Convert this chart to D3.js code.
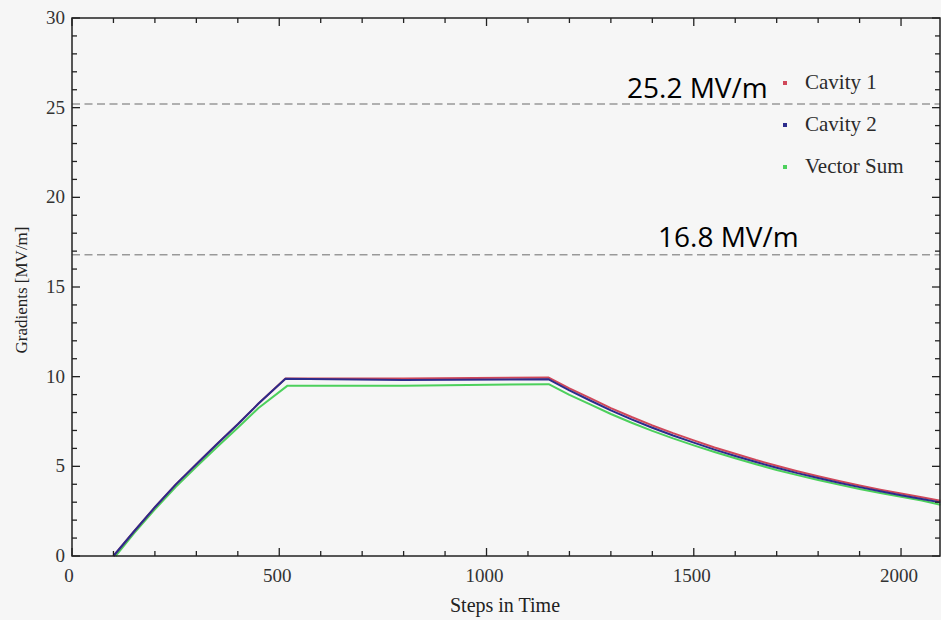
<!DOCTYPE html>
<html>
<head>
<meta charset="utf-8">
<script src="https://cdn.jsdelivr.net/npm/d3@7"></script>
<style>
  body { margin: 0; background: #f6f6f6; }
  svg { display: block; }
  .tick-label { font-family: "Liberation Serif", serif; font-size: 19px; fill: #333; }
  .axis-title { font-family: "Liberation Serif", serif; fill: #222; }
  .legend text { font-family: "Liberation Serif", serif; font-size: 21px; fill: #2a2a2a; }
  .note { font-family: "Open Sans", sans-serif; font-size: 28px; fill: #000; }
</style>
</head>
<body>
<div id="chart"></div>
<script>
// values
const steps1 = [100, 150, 200, 250, 300, 350, 400, 450, 515, 800, 1150,
  1200, 1250, 1300, 1350, 1400, 1450, 1500, 1550, 1600, 1650, 1700, 1750, 1800, 1850, 1900, 1950, 2000, 2050, 2095];
const cavity1 = [0, 1.38, 2.72, 3.98, 5.12, 6.25, 7.35, 8.5, 9.9, 9.9, 9.95,
  9.35, 8.8, 8.25, 7.75, 7.28, 6.85, 6.45, 6.05, 5.7, 5.35, 5.03, 4.73, 4.45, 4.18, 3.93, 3.7, 3.48, 3.27, 3.08];
const cavity2 = [0, 1.38, 2.72, 3.98, 5.12, 6.25, 7.35, 8.5, 9.88, 9.82, 9.85,
  9.23, 8.67, 8.12, 7.62, 7.15, 6.72, 6.32, 5.93, 5.58, 5.24, 4.92, 4.62, 4.35, 4.08, 3.84, 3.61, 3.39, 3.18, 2.99];
const steps2 = [105, 150, 200, 250, 300, 350, 400, 450, 520, 800, 1150,
  1200, 1250, 1300, 1350, 1400, 1450, 1500, 1550, 1600, 1650, 1700, 1750, 1800, 1850, 1900, 1950, 2000, 2050, 2095];
const vectorSum = [0, 1.28, 2.6, 3.85, 4.97, 6.08, 7.15, 8.25, 9.5, 9.5, 9.58,
  8.98, 8.45, 7.92, 7.43, 6.98, 6.56, 6.17, 5.8, 5.45, 5.12, 4.8, 4.51, 4.24, 3.98, 3.74, 3.51, 3.3, 3.1, 2.86];

const seriesNames = ['Cavity 1', 'Cavity 2', 'Vector Sum'];
const seriesColors = ['#d0485a', '#2c2c8c', '#4cd05c'];

const limits = [25.2, 16.8];
const limitLabels = ['25.2 MV/m', '16.8 MV/m'];

const xTicks = [0, 500, 1000, 1500, 2000];
const yTicks = [0, 5, 10, 15, 20, 25, 30];

const width = 941;
const height = 620;

const svg = d3.select('#chart')
  .append('svg')
  .attr('width', width)
  .attr('height', height);

const xScale = d3.scaleLinear().domain([0, 2094]).range([72, 940]);
const yScale = d3.scaleLinear().domain([0, 30]).range([556, 18]);

// dashed limit lines
svg.append('g')
  .selectAll('line')
  .data(limits)
  .join('line')
  .attr('x1', xScale.range()[0])
  .attr('x2', xScale.range()[1])
  .attr('y1', (d) => yScale(d))
  .attr('y2', (d) => yScale(d))
  .attr('stroke', '#999')
  .attr('stroke-width', 1.5)
  .attr('stroke-dasharray', '8,4.5');

// curves
const lines = [
  { x: steps2, y: vectorSum, color: seriesColors[2] },
  { x: steps1, y: cavity1, color: seriesColors[0] },
  { x: steps1, y: cavity2, color: seriesColors[1] },
];

const line = d3.line()
  .x((d) => xScale(d[0]))
  .y((d) => yScale(d[1]));

svg.append('g')
  .selectAll('path')
  .data(lines)
  .join('path')
  .attr('d', (d) => line(d3.zip(d.x, d.y)))
  .attr('fill', 'none')
  .attr('stroke', (d) => d.color)
  .attr('stroke-width', 2)
  .attr('stroke-linejoin', 'round');

// frame with inward ticks on all four sides (Mathematica style)
const frame = svg.append('g');
const [x0, x1] = xScale.range();
const [y0, y1] = yScale.range();

frame.append('rect')
  .attr('x', x0)
  .attr('y', y1)
  .attr('width', x1 - x0)
  .attr('height', y0 - y1)
  .attr('fill', 'none')
  .attr('stroke', '#222')
  .attr('stroke-width', 1.5);

const xMinor = d3.range(0, 2100, 100);
const yMinor = d3.range(0, 31, 1);

frame.append('g')
  .selectAll('line')
  .data(xMinor)
  .join('line')
  .attr('x1', (d) => xScale(d))
  .attr('x2', (d) => xScale(d))
  .attr('y1', y0)
  .attr('y2', (d) => y0 - (d % 500 === 0 ? 8 : 5))
  .attr('stroke', '#222')
  .attr('stroke-width', 1.3);

frame.append('g')
  .selectAll('line')
  .data(xMinor)
  .join('line')
  .attr('x1', (d) => xScale(d))
  .attr('x2', (d) => xScale(d))
  .attr('y1', y1)
  .attr('y2', (d) => y1 + (d % 500 === 0 ? 8 : 5))
  .attr('stroke', '#222')
  .attr('stroke-width', 1.3);

frame.append('g')
  .selectAll('line')
  .data(yMinor)
  .join('line')
  .attr('x1', x0)
  .attr('x2', (d) => x0 + (d % 5 === 0 ? 8 : 5))
  .attr('y1', (d) => yScale(d))
  .attr('y2', (d) => yScale(d))
  .attr('stroke', '#222')
  .attr('stroke-width', 1.3);

frame.append('g')
  .selectAll('line')
  .data(yMinor)
  .join('line')
  .attr('x1', x1)
  .attr('x2', (d) => x1 - (d % 5 === 0 ? 8 : 5))
  .attr('y1', (d) => yScale(d))
  .attr('y2', (d) => yScale(d))
  .attr('stroke', '#222')
  .attr('stroke-width', 1.3);

// tick labels
svg.append('g')
  .selectAll('text')
  .data(xTicks)
  .join('text')
  .attr('class', 'tick-label')
  .attr('x', (d) => xScale(d) - (d === 0 ? 3 : 2))
  .attr('y', 582)
  .attr('text-anchor', 'middle')
  .text((d) => d);

svg.append('g')
  .selectAll('text')
  .data(yTicks)
  .join('text')
  .attr('class', 'tick-label')
  .attr('x', 65)
  .attr('y', (d) => yScale(d) + 6)
  .attr('text-anchor', 'end')
  .text((d) => d);

// axis titles
svg.append('text')
  .attr('class', 'axis-title')
  .attr('x', 505)
  .attr('y', 612)
  .attr('text-anchor', 'middle')
  .style('font-size', '20px')
  .text('Steps in Time');

svg.append('text')
  .attr('class', 'axis-title')
  .attr('transform', 'translate(27, 290) rotate(-90)')
  .attr('text-anchor', 'middle')
  .style('font-size', '17px')
  .text('Gradients [MV/m]');

// legend
const legend = svg.append('g')
  .attr('class', 'legend')
  .selectAll('g')
  .data(seriesNames)
  .join('g')
  .attr('transform', (d, i) => `translate(785, ${83 + i * 42})`);

legend.append('rect')
  .attr('x', -2)
  .attr('y', -2)
  .attr('width', 4)
  .attr('height', 4)
  .attr('fill', (d, i) => seriesColors[i]);

legend.append('text')
  .attr('x', 20)
  .attr('y', 6)
  .text((d) => d);

// annotations on the dashed lines
const notePos = [[627, 98], [658, 247]];
svg.append('g')
  .selectAll('text')
  .data(limitLabels)
  .join('text')
  .attr('class', 'note')
  .attr('x', (d, i) => notePos[i][0])
  .attr('y', (d, i) => notePos[i][1])
  .text((d) => d);
</script>
</body>
</html>
